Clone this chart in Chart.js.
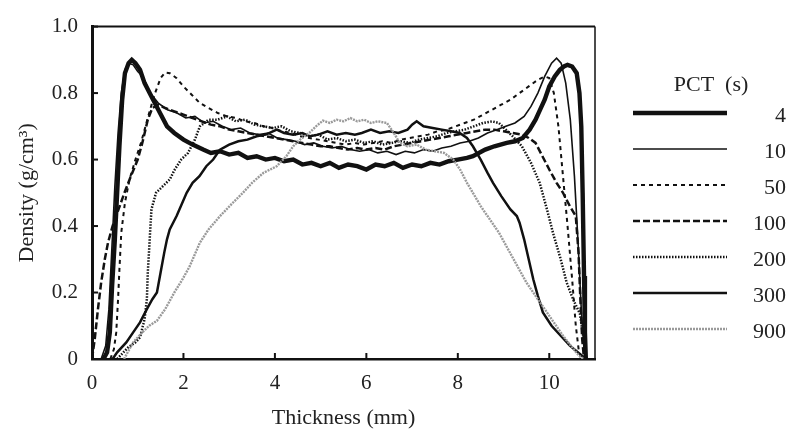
<!DOCTYPE html>
<html>
<head>
<meta charset="utf-8">
<script src="https://cdn.jsdelivr.net/npm/chart.js@4"></script>
<style>
	body { margin: 0; background: #fff; }
	#wrap { width: 795px; height: 432px; }
</style>
</head>
<body>
<div id="wrap"><canvas id="density-chart" width="795" height="432"></canvas></div>
<script>
// density profiles, [thickness (mm), density (g/cm3)]
const pct4 = [[0.25,0],[0.33,0.02],[0.39,0.08],[0.44,0.22],[0.5,0.36],[0.55,0.5],[0.6,0.64],[0.66,0.78],[0.72,0.86],[0.8,0.89],[0.87,0.9],[0.95,0.89],[1.05,0.87],[1.15,0.83],[1.3,0.79],[1.45,0.75],[1.64,0.7],[1.8,0.68],[2.0,0.66],[2.2,0.645],[2.43,0.63],[2.6,0.62],[2.8,0.625],[3.0,0.615],[3.2,0.62],[3.4,0.605],[3.6,0.61],[3.8,0.6],[4.0,0.605],[4.2,0.595],[4.4,0.6],[4.6,0.585],[4.8,0.59],[5.0,0.58],[5.2,0.59],[5.4,0.575],[5.6,0.585],[5.8,0.58],[6.0,0.57],[6.2,0.585],[6.4,0.58],[6.6,0.59],[6.8,0.575],[7.0,0.585],[7.2,0.58],[7.4,0.59],[7.6,0.585],[7.8,0.595],[8.0,0.6],[8.2,0.605],[8.33,0.61],[8.6,0.63],[8.8,0.64],[9.07,0.65],[9.25,0.655],[9.42,0.665],[9.57,0.69],[9.7,0.72],[9.8,0.75],[9.9,0.78],[10.0,0.82],[10.12,0.85],[10.23,0.87],[10.32,0.88],[10.4,0.885],[10.5,0.88],[10.6,0.86],[10.66,0.8],[10.7,0.7],[10.73,0.5],[10.76,0.25],[10.78,0.08],[10.8,0]];
const pct10 = [[0.2,0],[0.3,0.04],[0.37,0.15],[0.43,0.32],[0.5,0.52],[0.57,0.68],[0.64,0.8],[0.72,0.87],[0.8,0.89],[0.9,0.885],[1.0,0.865],[1.11,0.85],[1.27,0.8],[1.45,0.77],[1.65,0.75],[1.86,0.74],[2.05,0.725],[2.25,0.73],[2.45,0.71],[2.65,0.715],[2.85,0.7],[3.05,0.69],[3.25,0.695],[3.45,0.68],[3.65,0.675],[3.85,0.68],[4.05,0.665],[4.25,0.66],[4.45,0.655],[4.65,0.645],[4.85,0.65],[5.05,0.64],[5.25,0.635],[5.45,0.64],[5.65,0.63],[5.85,0.625],[6.05,0.63],[6.25,0.62],[6.45,0.625],[6.65,0.615],[6.85,0.625],[7.05,0.62],[7.25,0.63],[7.45,0.625],[7.65,0.635],[7.85,0.64],[8.05,0.65],[8.25,0.655],[8.45,0.665],[8.65,0.68],[8.85,0.69],[9.05,0.7],[9.25,0.71],[9.45,0.73],[9.6,0.76],[9.75,0.8],[9.9,0.85],[10.05,0.89],[10.16,0.905],[10.26,0.89],[10.36,0.83],[10.46,0.72],[10.55,0.55],[10.63,0.35],[10.7,0.15],[10.76,0.03],[10.8,0]];
const pct50 = [[0.4,0],[0.48,0.03],[0.53,0.08],[0.57,0.18],[0.6,0.27],[0.64,0.38],[0.72,0.47],[0.82,0.54],[0.95,0.6],[1.07,0.65],[1.17,0.7],[1.27,0.75],[1.38,0.8],[1.5,0.845],[1.6,0.862],[1.7,0.86],[1.85,0.845],[2.0,0.82],[2.18,0.795],[2.36,0.77],[2.55,0.755],[2.75,0.74],[2.95,0.73],[3.15,0.725],[3.35,0.715],[3.55,0.71],[3.75,0.7],[3.95,0.695],[4.15,0.685],[4.35,0.68],[4.55,0.67],[4.75,0.665],[4.95,0.66],[5.15,0.655],[5.35,0.65],[5.55,0.645],[5.75,0.65],[5.95,0.645],[6.15,0.65],[6.35,0.655],[6.55,0.65],[6.75,0.66],[6.95,0.665],[7.15,0.67],[7.35,0.675],[7.55,0.685],[7.75,0.69],[7.95,0.7],[8.15,0.71],[8.35,0.72],[8.55,0.735],[8.75,0.75],[8.95,0.765],[9.15,0.78],[9.35,0.8],[9.55,0.82],[9.75,0.84],[9.9,0.85],[10.0,0.845],[10.1,0.8],[10.2,0.7],[10.3,0.55],[10.4,0.4],[10.5,0.24],[10.58,0.1],[10.65,0.02],[10.7,0]];
const pct100 = [[0.0,0],[0.06,0.06],[0.13,0.15],[0.2,0.23],[0.28,0.3],[0.35,0.35],[0.45,0.4],[0.58,0.45],[0.71,0.5],[0.85,0.55],[1.0,0.6],[1.1,0.65],[1.22,0.72],[1.32,0.755],[1.45,0.765],[1.6,0.755],[1.8,0.745],[2.0,0.735],[2.2,0.725],[2.4,0.715],[2.6,0.705],[2.8,0.7],[3.0,0.69],[3.2,0.685],[3.4,0.68],[3.6,0.675],[3.8,0.67],[4.0,0.665],[4.2,0.66],[4.4,0.655],[4.6,0.65],[4.8,0.645],[5.0,0.64],[5.2,0.64],[5.4,0.635],[5.6,0.63],[5.8,0.635],[6.0,0.63],[6.2,0.635],[6.4,0.63],[6.6,0.64],[6.8,0.645],[7.0,0.65],[7.2,0.655],[7.4,0.66],[7.6,0.665],[7.8,0.67],[8.0,0.675],[8.2,0.68],[8.4,0.685],[8.6,0.69],[8.8,0.69],[9.0,0.685],[9.2,0.68],[9.4,0.675],[9.55,0.665],[9.7,0.65],[9.85,0.61],[10.0,0.57],[10.16,0.53],[10.3,0.5],[10.45,0.46],[10.58,0.43],[10.64,0.32],[10.68,0.18],[10.72,0.06],[10.76,0]];
const pct200 = [[0.55,0],[0.79,0.035],[0.95,0.05],[1.05,0.065],[1.15,0.12],[1.2,0.18],[1.22,0.26],[1.25,0.33],[1.27,0.38],[1.3,0.45],[1.4,0.5],[1.55,0.52],[1.7,0.54],[1.81,0.57],[1.95,0.6],[2.1,0.62],[2.25,0.66],[2.36,0.7],[2.55,0.72],[2.75,0.72],[2.95,0.73],[3.15,0.715],[3.35,0.72],[3.55,0.705],[3.75,0.7],[3.95,0.695],[4.15,0.7],[4.35,0.685],[4.55,0.68],[4.75,0.67],[4.95,0.675],[5.15,0.66],[5.35,0.665],[5.55,0.655],[5.75,0.66],[5.95,0.65],[6.15,0.655],[6.35,0.645],[6.55,0.65],[6.75,0.655],[6.95,0.65],[7.15,0.66],[7.35,0.665],[7.55,0.67],[7.75,0.68],[7.95,0.685],[8.15,0.69],[8.35,0.7],[8.55,0.71],[8.75,0.715],[8.9,0.71],[9.05,0.69],[9.2,0.67],[9.4,0.64],[9.6,0.59],[9.79,0.53],[9.95,0.45],[10.08,0.38],[10.25,0.3],[10.38,0.23],[10.52,0.18],[10.67,0.136],[10.75,0.06],[10.8,0]];
const pct300 = [[0.45,0],[0.55,0.02],[0.75,0.05],[0.9,0.08],[1.05,0.11],[1.2,0.15],[1.32,0.18],[1.42,0.2],[1.5,0.26],[1.58,0.32],[1.64,0.36],[1.7,0.39],[1.85,0.43],[2.07,0.5],[2.2,0.53],[2.35,0.55],[2.5,0.58],[2.65,0.6],[2.8,0.63],[3.0,0.645],[3.2,0.655],[3.4,0.66],[3.6,0.67],[3.8,0.675],[4.04,0.69],[4.2,0.68],[4.4,0.675],[4.6,0.68],[4.77,0.67],[4.95,0.675],[5.15,0.685],[5.35,0.675],[5.55,0.68],[5.75,0.675],[5.9,0.68],[6.1,0.69],[6.3,0.68],[6.5,0.685],[6.7,0.68],[6.9,0.69],[7.0,0.705],[7.1,0.715],[7.25,0.7],[7.45,0.695],[7.65,0.69],[7.85,0.685],[8.04,0.68],[8.2,0.665],[8.33,0.64],[8.5,0.6],[8.65,0.56],[8.77,0.53],[8.95,0.49],[9.15,0.45],[9.29,0.43],[9.35,0.41],[9.45,0.36],[9.55,0.3],[9.65,0.24],[9.75,0.19],[9.86,0.14],[10.05,0.1],[10.25,0.07],[10.45,0.04],[10.67,0.015],[10.8,0]];
const pct900 = [[0.7,0],[0.9,0.05],[1.1,0.08],[1.25,0.1],[1.42,0.115],[1.6,0.15],[1.8,0.2],[1.98,0.24],[2.14,0.28],[2.36,0.35],[2.55,0.39],[2.8,0.43],[3.08,0.47],[3.3,0.5],[3.5,0.53],[3.75,0.56],[4.04,0.58],[4.25,0.61],[4.4,0.64],[4.55,0.66],[4.75,0.68],[4.9,0.7],[5.05,0.717],[5.2,0.71],[5.35,0.72],[5.5,0.715],[5.65,0.725],[5.8,0.715],[5.95,0.72],[6.1,0.71],[6.25,0.715],[6.45,0.71],[6.6,0.68],[6.73,0.65],[6.9,0.64],[7.1,0.645],[7.3,0.63],[7.5,0.625],[7.7,0.62],[7.9,0.6],[8.05,0.57],[8.2,0.53],[8.33,0.5],[8.5,0.46],[8.7,0.42],[8.9,0.38],[9.1,0.33],[9.3,0.28],[9.5,0.23],[9.7,0.19],[9.9,0.15],[10.1,0.11],[10.3,0.07],[10.5,0.035],[10.65,0.01],[10.75,0]];

const pctLabels = ["4", "10", "50", "100", "200", "300", "900"];
const xTicks = [0, 2, 4, 6, 8, 10];
const yTicks = [0, 0.2, 0.4, 0.6, 0.8, 1.0];

const serif = "'Liberation Serif', 'Times New Roman', serif";

function toPoints(arr) {
	return arr.map((p) => ({ x: p[0], y: p[1] }));
}

function makeSet(label, arr, width, dash, color) {
	return {
		label: label,
		data: toPoints(arr),
		borderColor: color || "#111",
		borderWidth: width,
		borderDash: dash,
		pointRadius: 0,
		fill: false,
		tension: 0,
	};
}

const datasets = [
	makeSet(pctLabels[6], pct900, 2.4, [2, 1], "#9a9a9a"),
	makeSet(pctLabels[5], pct300, 2.5, []),
	makeSet(pctLabels[4], pct200, 2.5, [1.5, 1.5]),
	makeSet(pctLabels[3], pct100, 2.5, [7, 3]),
	makeSet(pctLabels[2], pct50, 2, [4, 4]),
	makeSet(pctLabels[1], pct10, 1.6, []),
	makeSet(pctLabels[0], pct4, 4.4, []),
];

// closes the box and draws the short inward tick marks
const framePlugin = {
	id: "frame",
	afterDraw(chart) {
		const ctx = chart.ctx;
		const a = chart.chartArea;
		const xs = chart.scales.x;
		const ys = chart.scales.y;
		ctx.save();
		ctx.strokeStyle = "#111";
		ctx.lineWidth = 2;
		ctx.beginPath();
		ctx.moveTo(a.left, a.top);
		ctx.lineTo(a.right, a.top);
		ctx.stroke();
		ctx.lineWidth = 1.5;
		ctx.beginPath();
		ctx.moveTo(a.right, a.top);
		ctx.lineTo(a.right, a.bottom);
		ctx.stroke();
		ctx.lineWidth = 2;
		xTicks.forEach((v) => {
			const px = xs.getPixelForValue(v);
			ctx.beginPath();
			ctx.moveTo(px, a.bottom);
			ctx.lineTo(px, a.bottom - 6);
			ctx.stroke();
		});
		yTicks.forEach((v) => {
			const py = ys.getPixelForValue(v);
			ctx.beginPath();
			ctx.moveTo(a.left, py);
			ctx.lineTo(a.left + 6, py);
			ctx.stroke();
		});
		ctx.restore();
	},
};

// legend at the right: header, line sample, value
const legendPlugin = {
	id: "pctLegend",
	afterDraw(chart) {
		const ctx = chart.ctx;
		ctx.save();
		ctx.fillStyle = "#222";
		ctx.font = "22px " + serif;
		ctx.textBaseline = "middle";
		ctx.textAlign = "center";
		ctx.fillText("PCT  (s)", 711, 85);
		const order = chart.data.datasets.slice().reverse();
		order.forEach((ds, i) => {
			const y = 113 + i * 36;
			ctx.strokeStyle = ds.borderColor;
			ctx.lineWidth = ds.borderWidth;
			ctx.setLineDash(ds.borderDash || []);
			ctx.beginPath();
			ctx.moveTo(633, y);
			ctx.lineTo(727, y);
			ctx.stroke();
			ctx.setLineDash([]);
			ctx.textAlign = "right";
			ctx.fillText(ds.label, 786, y + 3);
		});
		ctx.restore();
	},
};

const config = {
	type: "line",
	data: { datasets: datasets },
	options: {
		responsive: false,
		animation: false,
		layout: { padding: { top: 21, right: 200, bottom: 0, left: 0 } },
		plugins: { legend: { display: false }, tooltip: { enabled: false } },
		scales: {
			x: {
				type: "linear",
				min: 0,
				max: 11,
				afterFit: (scale) => { scale.height = 73; },
				afterBuildTicks: (scale) => { scale.ticks = xTicks.map((v) => ({ value: v })); },
				ticks: { color: "#222", font: { family: serif, size: 21 }, padding: 12 },
				grid: { display: false, drawTicks: false },
				border: { color: "#111", width: 2.5 },
				title: {
					display: true,
					text: "Thickness (mm)",
					color: "#222",
					font: { family: serif, size: 22 },
					padding: { top: 0, bottom: 1 },
				},
			},
			y: {
				min: 0,
				max: 1,
				afterFit: (scale) => { scale.width = 92; },
				afterBuildTicks: (scale) => { scale.ticks = yTicks.map((v) => ({ value: v })); },
				ticks: {
					color: "#222",
					font: { family: serif, size: 21 },
					padding: 14,
					callback: (v) => (v === 0 ? "0" : v.toFixed(1)),
				},
				grid: { display: false, drawTicks: false },
				border: { color: "#111", width: 3 },
				title: {
					display: true,
					text: "Density (g/cm³)",
					color: "#222",
					font: { family: serif, size: 22 },
					padding: { top: 14, bottom: 0 },
				},
			},
		},
	},
	plugins: [framePlugin, legendPlugin],
};

new Chart(document.getElementById("density-chart"), config);
</script>
</body>
</html>
